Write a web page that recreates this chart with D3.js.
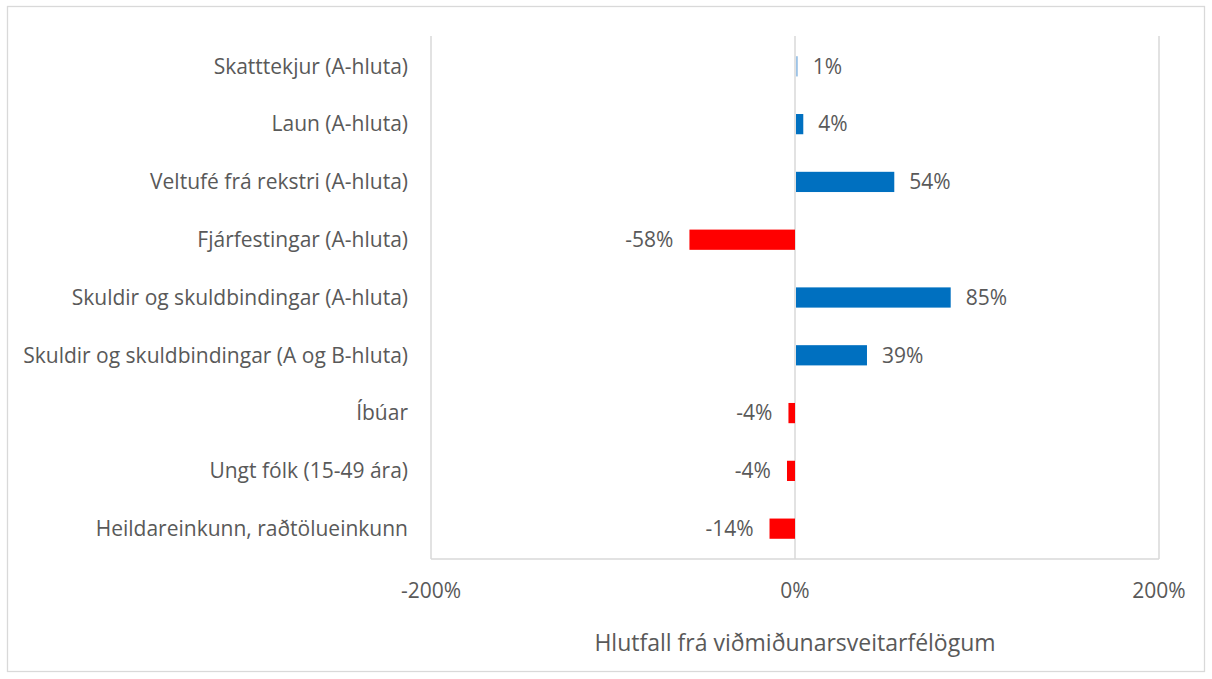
<!DOCTYPE html>
<html>
<head>
<meta charset="utf-8">
<script src="https://cdn.jsdelivr.net/npm/d3@7"></script>
<style>
  body { margin: 0; background: #fff; }
  svg text { font-family: "Open Sans", "Noto Sans", sans-serif; fill: #595959; }
</style>
</head>
<body>
<div id="chart"></div>
<script>
const categories = [
  "Skatttekjur (A-hluta)",
  "Laun (A-hluta)",
  "Veltufé frá rekstri (A-hluta)",
  "Fjárfestingar (A-hluta)",
  "Skuldir og skuldbindingar (A-hluta)",
  "Skuldir og skuldbindingar (A og B-hluta)",
  "Íbúar",
  "Ungt fólk (15-49 ára)",
  "Heildareinkunn, raðtölueinkunn"
];
const values = [1, 4, 54, -58, 85, 39, -3.6, -4.4, -14];
const xTicks = [-200, 0, 200];
const axisTitle = "Hlutfall frá viðmiðunarsveitarfélögum";

const W = 1212, H = 679;
const plot = { left: 431, right: 1159, top: 36, bottom: 559 };

const svg = d3.select("#chart").append("svg")
  .attr("width", W).attr("height", H);

// outer border
svg.append("rect")
  .attr("x", 7.5).attr("y", 6.5)
  .attr("width", 1197).attr("height", 665)
  .attr("fill", "none").attr("stroke", "#d9d9d9").attr("stroke-width", 1.3);

const x = d3.scaleLinear().domain([-200, 200]).range([plot.left, plot.right]);
const y = d3.scaleBand().domain(categories).range([plot.top, plot.bottom]).paddingInner(0.65).paddingOuter(0.35);

// gridlines
svg.append("g").selectAll("line").data(xTicks).join("line")
  .attr("x1", d => x(d)).attr("x2", d => x(d))
  .attr("y1", plot.top).attr("y2", plot.bottom)
  .attr("stroke", "#d9d9d9").attr("stroke-width", 1.5);

// bottom axis line
svg.append("line")
  .attr("x1", plot.left).attr("x2", plot.right)
  .attr("y1", plot.bottom).attr("y2", plot.bottom)
  .attr("stroke", "#d9d9d9").attr("stroke-width", 1.5);

// tick labels
svg.append("g").selectAll("text").data(xTicks).join("text")
  .attr("x", d => x(d)).attr("y", 598)
  .attr("text-anchor", "middle")
  .style("font-size", "21px")
  .text(d => d + "%");

// category labels
svg.append("g").selectAll("text").data(categories).join("text")
  .attr("x", plot.left - 23)
  .attr("y", d => y(d) + y.bandwidth() / 2)
  .attr("dy", "0.35em")
  .attr("text-anchor", "end")
  .style("font-size", "21px")
  .text(d => d);

// bars
svg.append("g").selectAll("rect").data(values).join("rect")
  .attr("x", d => x(Math.min(0, d)) + (d > 0 ? 1 : 0))
  .attr("y", (d, i) => y(categories[i]))
  .attr("width", d => Math.abs(x(d) - x(0)))
  .attr("height", y.bandwidth())
  .attr("fill", (d, i) => d < 0 ? "#ff0000" : (i === 0 ? "#9dc3e6" : "#0070c0"));

// value labels
svg.append("g").selectAll("text").data(values).join("text")
  .attr("x", d => d >= 0 ? x(d) + 16 : x(d) - 16)
  .attr("y", (d, i) => y(categories[i]) + y.bandwidth() / 2)
  .attr("dy", "0.35em")
  .attr("text-anchor", d => d >= 0 ? "start" : "end")
  .style("font-size", "21px")
  .text(d => Math.round(d) + "%");

// axis title
svg.append("text")
  .attr("x", (plot.left + plot.right) / 2)
  .attr("y", 651)
  .attr("text-anchor", "middle")
  .style("font-size", "23px")
  .text(axisTitle);
</script>
</body>
</html>
